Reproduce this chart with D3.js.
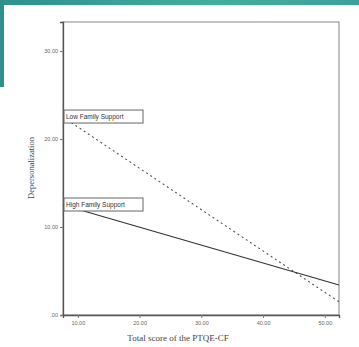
<!DOCTYPE html>
<html>
<head>
<meta charset="utf-8">
<script src="https://cdn.jsdelivr.net/npm/d3@7"></script>
<style>
  body { margin: 0; background: #fff; }
  svg { display: block; }
</style>
</head>
<body>
<div id="chart"></div>
<script>
// ---- data ----
const xTicks = [10, 20, 30, 40, 50];
const yTicks = [0, 10, 20, 30];
const groups = ["Low Family Support", "High Family Support"];
const lineX = [7.6, 52.3];
const lowValues = [22.5, 1.5];
const highValues = [12.5, 3.4];

const width = 359;
const height = 347;
const margin = { left: 63, top: 22, right: 20, bottom: 32 };

const svg = d3.select("#chart").append("svg")
  .attr("width", width)
  .attr("height", height);

// slide background peeking round the corner
const defs = svg.append("defs");
const grad = defs.append("linearGradient").attr("id", "teal")
  .attr("x1", "0").attr("y1", "0").attr("x2", "1").attr("y2", "0");
grad.append("stop").attr("offset", "0").attr("stop-color", "#2f8f8c");
grad.append("stop").attr("offset", "0.6").attr("stop-color", "#45ad9c");
grad.append("stop").attr("offset", "1").attr("stop-color", "#3f9f98");
svg.append("rect").attr("x", 0).attr("y", 0).attr("width", width).attr("height", 5)
  .attr("fill", "url(#teal)");
svg.append("rect").attr("x", 0).attr("y", 0).attr("width", 4).attr("height", 87)
  .attr("fill", "#2f8f8c");

const x = d3.scaleLinear().domain([7.6, 52.3]).range([margin.left, width - margin.right]);
const y = d3.scaleLinear().domain([0, 33.3]).range([height - margin.bottom, margin.top]);

// frame
svg.append("rect")
  .attr("x", x.range()[0]).attr("y", y.range()[1])
  .attr("width", x.range()[1] - x.range()[0])
  .attr("height", y.range()[0] - y.range()[1])
  .attr("fill", "none").attr("stroke", "#9a9a9a").attr("stroke-width", 1.2);

// axes
const xAxis = svg.append("g")
  .attr("transform", `translate(0,${y.range()[0]})`)
  .call(d3.axisBottom(x).tickValues(xTicks).tickFormat(d3.format(".2f")).tickSize(3).tickPadding(3));
const yAxis = svg.append("g")
  .attr("transform", `translate(${x.range()[0]},0)`)
  .call(d3.axisLeft(y).tickValues(yTicks)
    .tickFormat(d => d === 0 ? ".00" : d3.format(".2f")(d)).tickSize(3).tickPadding(2));

[xAxis, yAxis].forEach(a => {
  a.select(".domain").attr("stroke", "#555").attr("stroke-width", 1.3);
  a.selectAll(".tick line").attr("stroke", "#777");
  a.selectAll("text").attr("fill", "#666")
    .style("font-family", "Liberation Sans, Arial, sans-serif").style("font-size", "5.5px");
});

// axis titles
svg.append("text")
  .attr("x", (x.range()[0] + x.range()[1]) / 2 - 23)
  .attr("y", 341)
  .attr("text-anchor", "middle")
  .style("font-family", "Liberation Serif, Times New Roman, serif")
  .style("font-size", "9px").attr("fill", "#444")
  .text("Total score of the PTQE-CF");

svg.append("text")
  .attr("transform", "translate(34,168) rotate(-90)")
  .attr("text-anchor", "middle")
  .style("font-family", "Liberation Serif, Times New Roman, serif")
  .style("font-size", "8.5px").attr("fill", "#444")
  .text("Depersonalization");

// regression lines
const line = d3.line().x(d => x(d[0])).y(d => y(d[1]));
svg.append("path")
  .datum(lineX.map((v, i) => [v, lowValues[i]]))
  .attr("d", line).attr("fill", "none")
  .attr("stroke", "#555").attr("stroke-width", 1.1).attr("stroke-dasharray", "2,3");
svg.append("path")
  .datum(lineX.map((v, i) => [v, highValues[i]]))
  .attr("d", line).attr("fill", "none")
  .attr("stroke", "#333").attr("stroke-width", 1.1);

// labels at the start of each line
[[groups[0], lowValues[0]], [groups[1], highValues[0]]].forEach(([name, v]) => {
  const g = svg.append("g").attr("transform", `translate(${x.range()[0] + 1},${y(v) - 7})`);
  g.append("rect").attr("width", 79).attr("height", 13)
    .attr("fill", "#fff").attr("stroke", "#666").attr("stroke-width", 1);
  g.append("text").attr("x", 2).attr("y", 9)
    .style("font-family", "Liberation Sans, Arial, sans-serif")
    .style("font-size", "6.5px").attr("fill", "#333")
    .text(name);
});
</script>
</body>
</html>
